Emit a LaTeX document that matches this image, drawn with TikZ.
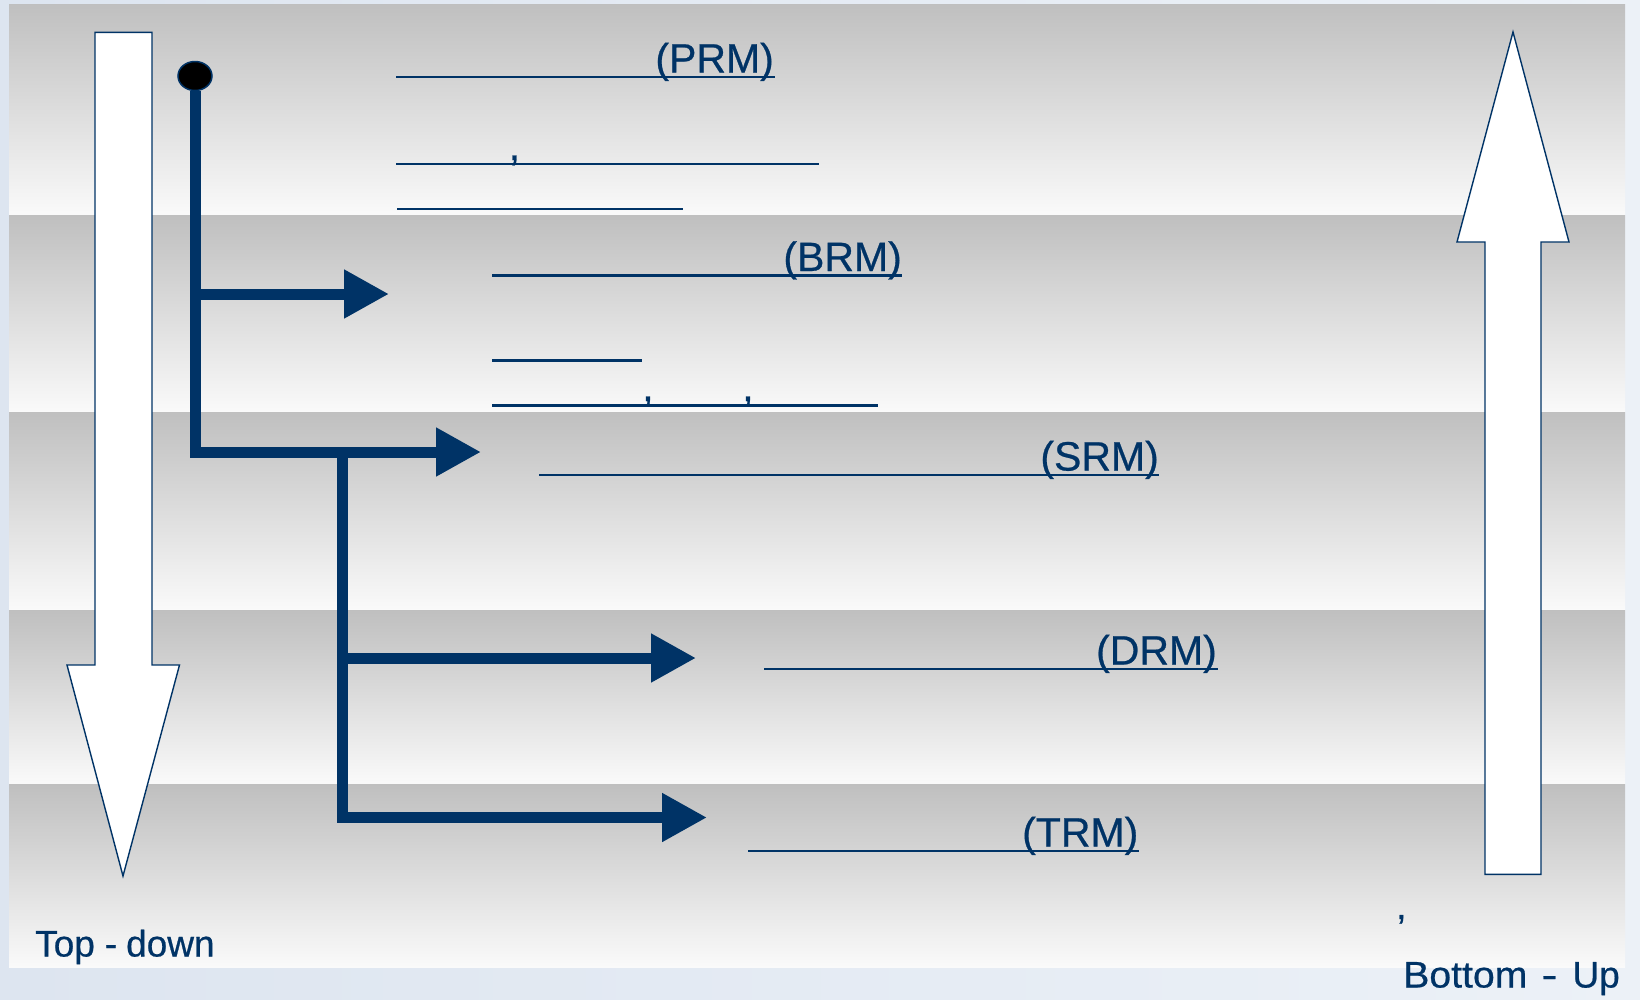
\documentclass[tikz,border=0pt]{standalone}
\usepackage{fontspec}
\setmainfont{Liberation Sans}
\newfontfamily\lblfont{Liberation Sans}[FakeBold=0.6]
\usetikzlibrary{arrows.meta,shapes.geometric}
\definecolor{navy}{RGB}{0,51,102}
\definecolor{bgl}{RGB}{221,229,240}
\definecolor{bgr}{RGB}{236,241,247}
\begin{document}
\begin{tikzpicture}[x=1pt,y=-1pt,
  band/.style={top color=black!25,bottom color=black!2,draw=none},
  bigarrow/.style={draw=navy,line width=1.4pt,fill=white,line join=miter},
  flow/.style={draw=navy,line width=11pt,line join=miter},
  flowtip/.style={flow,-{Triangle[length=45pt,width=46pt]}},
  uline/.style={draw=navy,line width=2.7pt},
  lbl/.style={text=navy,inner sep=0pt,font=\lblfont\fontsize{41}{49}\selectfont},
  small/.style={text=navy,inner sep=0pt,font=\lblfont\fontsize{37}{44}\selectfont},
  ]
\useasboundingbox (0,0) rectangle (1640,999);
\shade[left color=bgl,right color=bgr] (0,0) rectangle (1640,999);
\fill[white] (9,4) rectangle (1625,967);
\shade[band] (9,4) rectangle (1625,215.5);
\shade[band] (9,215.5) rectangle (1625,412);
\shade[band] (9,412) rectangle (1625,610);
\shade[band] (9,610) rectangle (1625,784.5);
\shade[band] (9,784.5) rectangle (1625,967);

% big white arrows
\draw[bigarrow] (95,32.3) -- (152,32.3) -- (152,665) -- (179.5,665) -- (123,876) -- (67,665) -- (95,665) -- cycle;
\draw[bigarrow] (1485,874.3) -- (1541,874.3) -- (1541,242) -- (1569,242) -- (1513,32) -- (1457,242) -- (1485,242) -- cycle;

% flow tree
\node[ellipse,minimum width=34pt,minimum height=29pt,inner sep=0pt,fill=black,draw=navy,line width=1.5pt] (dot) at (195,76) {};
\coordinate (j1) at (195,294);
\coordinate (j2) at (195,452);
\coordinate (k1) at (342,452);
\coordinate (k2) at (342,658);
\coordinate (k3) at (342,817.5);
\coordinate (eB) at (389,294);
\coordinate (eS) at (481,452);
\coordinate (eD) at (696,658);
\coordinate (eT) at (707,817.5);
\draw[flowtip] (dot.south) -- (j2) -- (eS);
\draw[flowtip] (j1) -- (eB);
\draw[flowtip] (k1) -- (k3) -- (eT);
\draw[flowtip] (k2) -- (eD);

% labels
\node[lbl,anchor=base east] (prm) at (774,72.5) {(PRM)};
\node[lbl,anchor=base east] (brm) at (902,271) {(BRM)};
\node[lbl,anchor=base east] (srm) at (1159,470.5) {(SRM)};
\node[lbl,anchor=base east] (drm) at (1217,664.5) {(DRM)};
\node[lbl,anchor=base east] (trm) at (1138.5,846.5) {(TRM)};
\node[lbl,anchor=base west] (c1) at (508.5,160) {,};
\node[lbl,anchor=base west] (c2) at (642,401) {,};
\node[lbl,anchor=base west] (c3) at (742,401) {,};
\node[small,anchor=base west] (c4) at (1396,919) {,};

% underlines
\draw[uline] (396,77) -- (774.5,77);
\draw[uline] (396,164) -- (818.5,164);
\draw[uline] (397,209) -- (683,209);
\draw[uline] (492,275.3) -- (902,275.3);
\draw[uline] (492,360.7) -- (642,360.7);
\draw[uline] (492,405.5) -- (877.5,405.5);
\draw[uline] (539,475) -- (1159,475);
\draw[uline] (764,669) -- (1217.5,669);
\draw[uline] (748,851) -- (1138.5,851);

\node[small,anchor=base west] (td) at (35,956.5) {Top\hspace{10pt}-\hspace{9pt}down};
\node[small,anchor=base west] (bu) at (1403,987.5) {\scalebox{1.06}[1]{Bottom}\hspace{14pt}\scalebox{1.3}[1]{-}\hspace{15pt}Up};
\end{tikzpicture}
\end{document}
